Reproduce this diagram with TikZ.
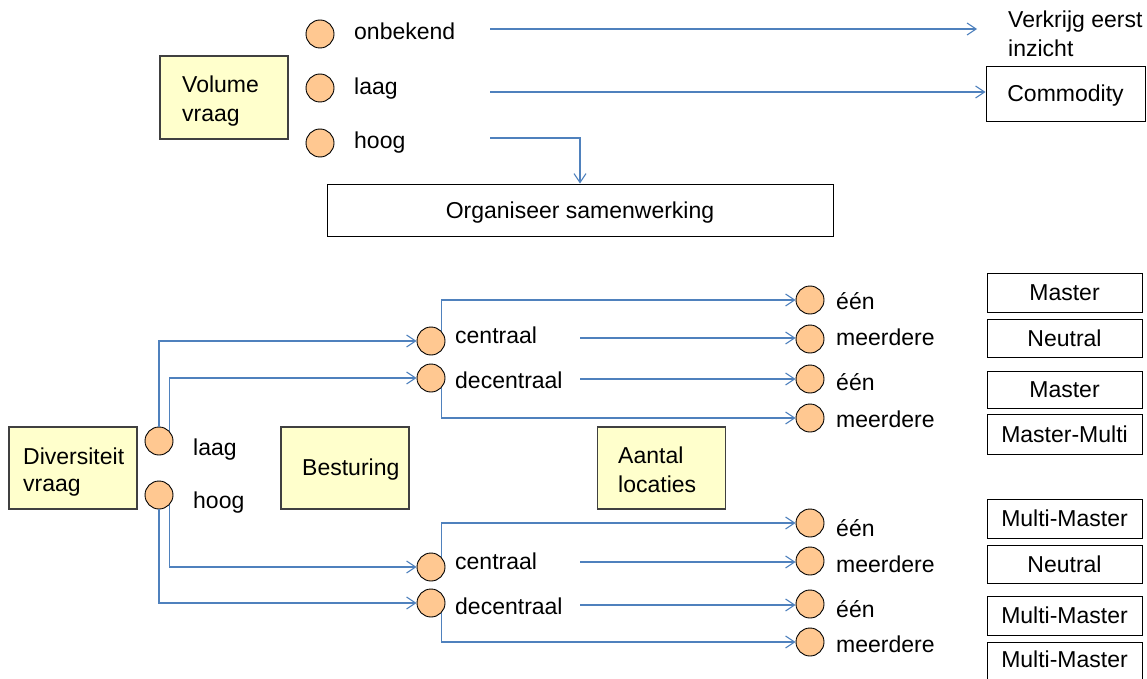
\documentclass[tikz,border=0pt]{standalone}
\usepackage{fontspec}
\setmainfont{Liberation Sans}
\usetikzlibrary{arrows.meta}
\definecolor{linkblue}{RGB}{79,129,189}
\definecolor{dotfill}{RGB}{255,200,145}
\definecolor{noteyellow}{RGB}{255,255,204}
\definecolor{edgegray}{RGB}{64,64,64}
\tikzset{
  every node/.style={font=\fontsize{23}{28}\selectfont},
  dot/.style={circle, draw=black, line width=0.9pt, fill=dotfill, minimum size=28pt, inner sep=0pt},
  notebox/.style={rectangle, draw=edgegray, line width=1.1pt, fill=noteyellow, inner sep=0pt},
  resultbox/.style={rectangle, draw=black, line width=0.9pt, fill=white, inner sep=0pt, text depth=0pt},
  lbl/.style={anchor=base west, inner sep=0pt},
  link/.style={draw=linkblue, line width=1.1pt, -{Straight Barb[length=9pt,width=12pt]}},
}
\begin{document}
\begin{tikzpicture}[x=1pt,y=-1pt]
\useasboundingbox (0,0) rectangle (1147,679);

% ---------- volume of demand ----------
\node[notebox, minimum width=128pt, minimum height=83pt] (vol) at (224,97.5) {};
\node[lbl] (volA) at (182,93) {Volume};
\node[lbl] (volB) at (182,122) {vraag};

\node[dot] (vo) at (320,34) {};
\node[dot] (vl) at (320,88) {};
\node[dot] (vh) at (320,143) {};
\node[lbl] (voT) at (354,39.5) {onbekend};
\node[lbl] (vlT) at (354,95) {laag};
\node[lbl] (vhT) at (354,148.5) {hoog};

\node[lbl] (insA) at (1008,28) {Verkrijg eerst};
\node[lbl] (insB) at (1008,57) {inzicht};
\node[resultbox, minimum width=159pt, minimum height=55pt] (com) at (1065.5,93.5) {Commodity};
\node[resultbox, minimum width=506pt, minimum height=52pt] (org) at (580,210) {Organiseer samenwerking};

\coordinate (s1) at (490,29);
\coordinate (e1) at (977,29);
\coordinate (s2) at (490,92);
\coordinate (s3) at (490,138);
\draw[link] (s1) -- (e1);
\draw[link] (s2) -- (s2 -| com.west);
\draw[link] (s3) -| (org.north);

% ---------- diversity of demand ----------
\node[notebox, minimum width=128pt, minimum height=82pt] (div) at (73,468) {};
\node[lbl] (divA) at (23,464) {Diversiteit};
\node[lbl] (divB) at (23,491) {vraag};
\node[notebox, minimum width=128pt, minimum height=82pt] (bes) at (345,468) {};
\node[lbl] (besT) at (302,475) {Besturing};
\node[notebox, minimum width=128pt, minimum height=82pt] (aan) at (661.5,468) {};
\node[lbl] (aanA) at (618,463) {Aantal};
\node[lbl] (aanB) at (618,492) {locaties};

\node[dot] (dl) at (159,441) {};
\node[dot] (dh) at (159,495) {};
\node[lbl] (dlT) at (193,455) {laag};
\node[lbl] (dhT) at (193,508) {hoog};

% steering, upper group
\node[dot] (c1) at (431,341) {};
\node[dot] (d1) at (431,378) {};
\node[lbl] (c1T) at (455,343) {centraal};
\node[lbl] (d1T) at (455,388) {decentraal};

% steering, lower group
\node[dot] (c2) at (431,567) {};
\node[dot] (d2) at (431,603) {};
\node[lbl] (c2T) at (455,569) {centraal};
\node[lbl] (d2T) at (455,614) {decentraal};

% number of locations
\node[dot] (n1) at (810,300) {};
\node[dot] (n2) at (810,339) {};
\node[dot] (n3) at (810,379) {};
\node[dot] (n4) at (810,418) {};
\node[dot] (n5) at (810,523) {};
\node[dot] (n6) at (810,561) {};
\node[dot] (n7) at (810,604) {};
\node[dot] (n8) at (810,642) {};
\node[lbl] (n1T) at (836,309) {één};
\node[lbl] (n2T) at (836,345) {meerdere};
\node[lbl] (n3T) at (836,390) {één};
\node[lbl] (n4T) at (836,427) {meerdere};
\node[lbl] (n5T) at (836,536) {één};
\node[lbl] (n6T) at (836,572) {meerdere};
\node[lbl] (n7T) at (836,617) {één};
\node[lbl] (n8T) at (836,652) {meerdere};

% outcomes
\node[resultbox, minimum width=155pt, minimum height=39pt] (r1) at (1064.5,292.5) {Master};
\node[resultbox, minimum width=155pt, minimum height=38pt] (r2) at (1064.5,338) {Neutral};
\node[resultbox, minimum width=155pt, minimum height=37pt] (r3) at (1064.5,389.5) {Master};
\node[resultbox, minimum width=155pt, minimum height=40pt] (r4) at (1064.5,434) {Master-Multi};
\node[resultbox, minimum width=155pt, minimum height=39pt] (r5) at (1064.5,518.5) {Multi-Master};
\node[resultbox, minimum width=155pt, minimum height=38pt] (r6) at (1064.5,564) {Neutral};
\node[resultbox, minimum width=155pt, minimum height=39pt] (r7) at (1064.5,615.5) {Multi-Master};
\node[resultbox, minimum width=155pt, minimum height=44pt] (r8) at (1064.5,664) {};
\node[lbl, anchor=base] (r8T) at (1064.5,667) {Multi-Master};

% connectors
\draw[link] (dl.north) |- (c1.west);
\draw[link] (dl.north east) |- (d1.west);
\draw[link] (dh.south east) |- (c2.west);
\draw[link] (dh.south) |- (d2.west);

\draw[link] (c1.north east) |- (n1.west);
\draw[link] (d1.south east) |- (n4.west);
\draw[link] (c2.north east) |- (n5.west);
\draw[link] (d2.south east) |- (n8.west);

\coordinate (t1) at (580,338);
\coordinate (t2) at (580,379);
\coordinate (t3) at (580,562);
\coordinate (t4) at (580,605);
\draw[link] (t1) -- (t1 -| n2.west);
\draw[link] (t2) -- (t2 -| n3.west);
\draw[link] (t3) -- (t3 -| n6.west);
\draw[link] (t4) -- (t4 -| n7.west);
\end{tikzpicture}
\end{document}
